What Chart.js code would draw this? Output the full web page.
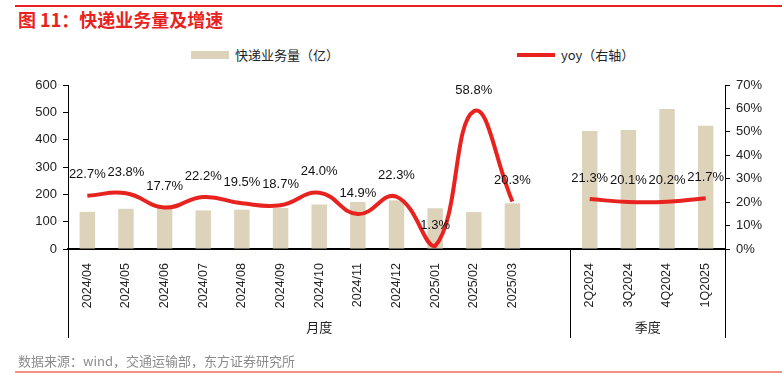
<!DOCTYPE html>
<html>
<head>
<meta charset="utf-8">
<script src="https://cdn.jsdelivr.net/npm/chart.js@4.4.1/dist/chart.umd.min.js"></script>
<style>
  html, body { margin: 0; padding: 0; background: #fff; }
  #wrap { position: relative; width: 782px; height: 379px; overflow: hidden; font-family: "Liberation Sans", "Noto Sans CJK SC", sans-serif; }
  #chart { position: absolute; left: 0; top: 0; }
  .topline { position: absolute; left: 15px; right: 0; top: 5px; height: 1.5px; background: #e8231f; }
  .bottomline { position: absolute; left: 15px; right: 0; top: 371px; height: 2px; background: #f3908b; }
  .title { position: absolute; left: 18px; top: 6px; font: bold 18px "Noto Sans CJK SC", sans-serif; color: #e8231f; }
  .source { position: absolute; left: 18px; top: 351px; font: 13px "Noto Sans CJK SC", sans-serif; color: #8c8c8c; }
  .legend { position: absolute; top: 45px; font: 13px "Noto Sans CJK SC", sans-serif; color: #222; display: flex; align-items: center; }
  .legend .sw { display: inline-block; width: 38px; margin-right: 6px; }
</style>
</head>
<body>
<div id="wrap">
  <div class="topline"></div>
  <div class="title">图 11：快递业务量及增速</div>
  <div class="legend" style="left:191px"><span class="sw" style="height:8px;background:#ddd3bb"></span>快递业务量（亿）</div>
  <div class="legend" style="left:517px"><span class="sw" style="height:4px;background:#e8231f"></span>yoy（右轴）</div>
  <canvas id="chart" width="782" height="379"></canvas>
  <div class="source">数据来源：wind，交通运输部，东方证券研究所</div>
  <div class="bottomline"></div>
</div>
<script>
// ========== 数据 ==========
const categories = ['2024/04', '2024/05', '2024/06', '2024/07', '2024/08', '2024/09',
  '2024/10', '2024/11', '2024/12', '2025/01', '2025/02', '2025/03', '',
  '2Q2024', '3Q2024', '4Q2024', '1Q2025'];
const volume = [136, 147, 148, 141, 144, 150, 163, 172, 178, 149, 135, 167, null, 432, 435, 512, 451];
const yoy = [22.7, 23.8, 17.7, 22.2, 19.5, 18.7, 24.0, 14.9, 22.3, 1.3, 58.8, 20.3, null, 21.3, 20.1, 20.2, 21.7];
const leftTicks = [0, 100, 200, 300, 400, 500, 600];
const rightTicks = [0, 10, 20, 30, 40, 50, 60, 70];
const groupLabels = ['月度', '季度'];
const groupStarts = [0, 13];

const RED = '#e8231f';
const BEIGE = '#ddd3bb';
const NUM_FONT = '"Liberation Sans", Arial, sans-serif';

// rótulos da linha (yoy) + separadores e grupos do eixo x
const extrasPlugin = {
  id: 'extras',
  afterDatasetsDraw(chart) {
    const ctx = chart.ctx;
    const meta = chart.getDatasetMeta(1);
    ctx.save();
    ctx.font = '13px ' + NUM_FONT;
    ctx.fillStyle = '#111';
    ctx.textAlign = 'center';
    ctx.textBaseline = 'middle';
    meta.data.forEach((pt, i) => {
      if (yoy[i] === null) return;
      ctx.fillText(yoy[i].toFixed(1) + '%', pt.x, pt.y - 21);
    });
    ctx.restore();
  },
  afterDraw(chart) {
    const ctx = chart.ctx;
    const x = chart.scales.x;
    const w = (x.right - x.left) / categories.length;
    const top = x.top;
    const bottom = 338;
    ctx.save();
    ctx.strokeStyle = '#000';
    ctx.lineWidth = 1;
    const seps = [x.left, x.left + groupStarts[1] * w, x.right];
    seps.forEach(px => {
      const p = Math.round(px) + 0.5;
      ctx.beginPath();
      ctx.moveTo(p, top);
      ctx.lineTo(p, bottom);
      ctx.stroke();
    });
    ctx.font = '13px "Noto Sans CJK SC", sans-serif';
    ctx.fillStyle = '#222';
    ctx.textAlign = 'center';
    ctx.textBaseline = 'middle';
    groupLabels.forEach((lbl, g) => {
      const a = g === 0 ? x.left : x.left + groupStarts[g] * w;
      const b = g === groupLabels.length - 1 ? x.right : x.left + groupStarts[g + 1] * w;
      ctx.fillText(lbl, (a + b) / 2, 327);
    });
    ctx.restore();
  }
};

new Chart(document.getElementById('chart').getContext('2d'), {
  data: {
    labels: categories,
    datasets: [
      {
        type: 'bar',
        label: '快递业务量（亿）',
        data: volume,
        backgroundColor: BEIGE,
        barPercentage: 0.4,
        categoryPercentage: 1,
        yAxisID: 'y',
        order: 2
      },
      {
        type: 'line',
        label: 'yoy（右轴）',
        data: yoy,
        borderColor: RED,
        borderWidth: 4,
        pointRadius: 0,
        tension: 0.45,
        spanGaps: false,
        yAxisID: 'y1',
        order: 1
      }
    ]
  },
  options: {
    responsive: false,
    animation: false,
    layout: { padding: { top: 85, left: 0, right: 0, bottom: 0 } },
    plugins: {
      legend: { display: false },
      title: { display: false },
      tooltip: { enabled: false }
    },
    scales: {
      x: {
        grid: { display: false },
        border: { display: true, color: '#000', width: 2 },
        ticks: {
          color: '#222',
          font: { size: 12.5, family: NUM_FONT },
          minRotation: 90,
          maxRotation: 90,
          autoSkip: false,
          padding: 6
        },
        afterFit(scale) { scale.height = 130; }
      },
      y: {
        position: 'left',
        min: 0,
        max: 600,
        afterBuildTicks(scale) { scale.ticks = leftTicks.map(v => ({ value: v })); },
        grid: { drawOnChartArea: false, drawTicks: true, tickLength: 5, color: '#000' },
        border: { display: true, color: '#000', width: 1 },
        ticks: { color: '#222', font: { size: 13, family: NUM_FONT }, padding: 6 },
        afterFit(scale) { scale.width = 68; }
      },
      y1: {
        position: 'right',
        min: 0,
        max: 70,
        afterBuildTicks(scale) { scale.ticks = rightTicks.map(v => ({ value: v })); },
        grid: { drawOnChartArea: false, drawTicks: true, tickLength: 5, color: '#000' },
        border: { display: true, color: '#000', width: 1 },
        ticks: {
          color: '#222',
          font: { size: 13, family: NUM_FONT },
          padding: 6,
          callback: v => v + '%'
        },
        afterFit(scale) { scale.width = 57; }
      }
    }
  },
  plugins: [extrasPlugin]
});
</script>
</body>
</html>
